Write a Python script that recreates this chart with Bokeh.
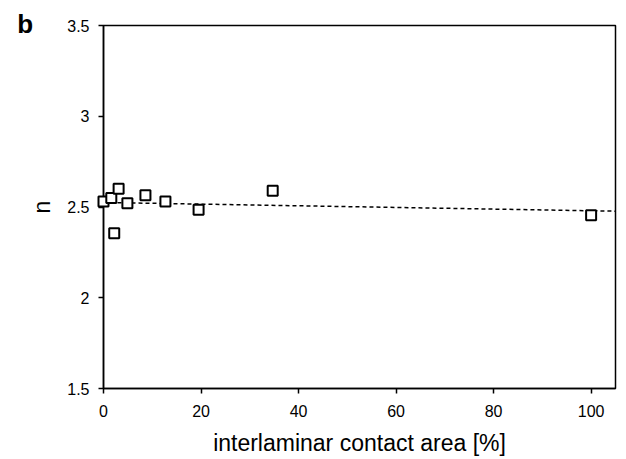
from bokeh.plotting import figure
from bokeh.models import Range1d, FixedTicker, ColumnDataSource
from bokeh.core.properties import value
from bokeh.embed import file_html
from bokeh.resources import INLINE

# data
contact_area = [0.0, 1.6, 3.1, 2.2, 4.9, 8.6, 12.7, 19.5, 34.7, 100.0]
n_values = [2.53, 2.55, 2.60, 2.355, 2.52, 2.565, 2.53, 2.485, 2.59, 2.455]
fit_x = [0.0, 105.0]
fit_y = [2.525, 2.477]
x_ticks = [0, 20, 40, 60, 80, 100]
y_ticks = [1.5, 2, 2.5, 3, 3.5]
panel_letter = "b"

FONT = "Liberation Sans"

p = figure(width=626, height=459, output_backend="svg", toolbar_location=None,
           x_range=Range1d(0, 105), y_range=Range1d(1.5, 3.5),
           min_border_left=103, min_border_right=11, min_border_top=25, min_border_bottom=71)
p.grid.visible = False
p.background_fill_color = "white"
p.border_fill_color = "white"
p.outline_line_color = "black"
p.outline_line_width = 1.5

p.line(fit_x, fit_y, line_color="black", line_width=1.5, line_dash="4 3")
src = ColumnDataSource(dict(x=contact_area, y=n_values))
p.scatter("x", "y", source=src, marker="square", size=10, fill_color="white",
          line_color="black", line_width=2, level="overlay")

for ax, ticks in ((p.xaxis[0], x_ticks), (p.yaxis[0], y_ticks)):
    ax.ticker = FixedTicker(ticks=ticks)
    ax.minor_tick_line_color = None
    ax.major_tick_in = 0
    ax.major_tick_out = 5
    ax.major_tick_line_width = 1.5
    ax.axis_line_width = 1.5
    ax.major_label_text_font = FONT
    ax.major_label_text_font_size = "16px"
    ax.major_label_text_color = "black"
    ax.axis_label_text_font = FONT
    ax.axis_label_text_font_style = "normal"
    ax.axis_label_text_font_size = "23px"
    ax.axis_label_text_color = "black"

p.xaxis[0].axis_label = "interlaminar contact area [%]"
p.xaxis[0].major_label_standoff = 11
p.xaxis[0].axis_label_standoff = 10
p.yaxis[0].axis_label = "n"
p.yaxis[0].major_label_standoff = 9
p.yaxis[0].axis_label_standoff = 9

# panel letter, placed through the plot's scales (outside the frame, unclipped)
p.text(x=[-17.7], y=[3.511], text=[panel_letter], text_font=value(FONT),
       text_font_style="bold", text_font_size="26px", text_color="black",
       text_baseline="alphabetic", text_align="left", level="overlay")

open("out.html", "w").write(file_html(p, INLINE))
